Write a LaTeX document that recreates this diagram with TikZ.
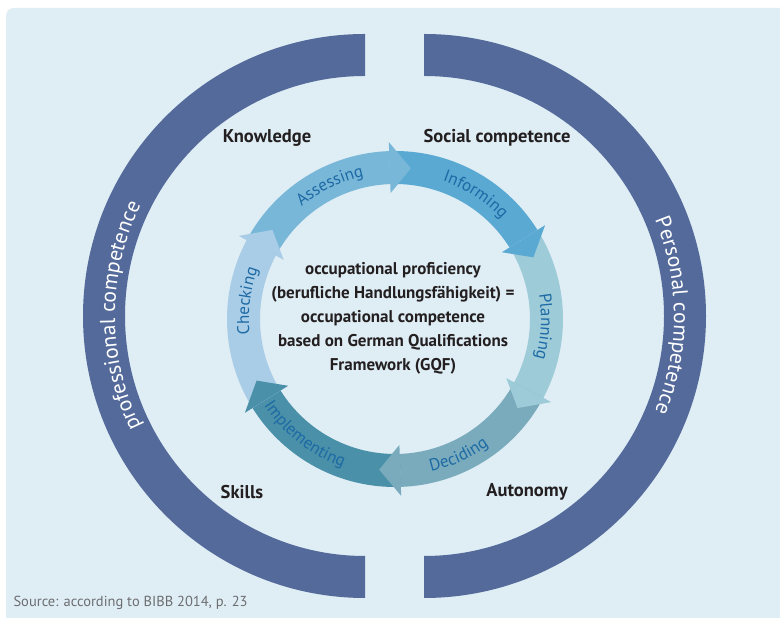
\documentclass[tikz,border=0pt]{standalone}
\usepackage{fontspec}
\setmainfont{PT Sans}
\usepackage{tikz}
\usepackage{xcolor}
\usetikzlibrary{decorations.text}

\definecolor{bgblue}{HTML}{DFEDF5}
\definecolor{ringblue}{HTML}{546A9A}
\definecolor{cassess}{HTML}{79B7D9}
\definecolor{cinform}{HTML}{5AA9D3}
\definecolor{cplan}{HTML}{9DCBD8}
\definecolor{cdecide}{HTML}{7AABBC}
\definecolor{cimpl}{HTML}{4A90A8}
\definecolor{ccheck}{HTML}{A9CDE7}
\definecolor{steptext}{HTML}{1D6AA5}
\definecolor{darktext}{HTML}{231F20}
\definecolor{srcgray}{HTML}{6D6E70}

\begin{document}
\begin{tikzpicture}[x=1pt,y=1pt,
  cornerlbl/.style={text=darktext,font=\fontsize{18.5}{22}\selectfont\bfseries},
  centerlbl/.style={text=darktext,align=center,font=\fontsize{17}{24}\selectfont\bfseries},
  srclbl/.style={text=srcgray,font=\fontsize{14.5}{17}\selectfont},
  ringtext/.style={decorate,decoration={text along path,text align=center,
    text={|\color{white}\fontsize{21.5}{25}\selectfont|#1}}},
  steptxt/.style={decorate,decoration={text along path,text align=center,
    text={|\color{steptext}\fontsize{17}{19}\selectfont|#1}}}]

\def\rin{135}
\def\rout{168}
\def\rmid{151.5}
\def\hin{126}
\def\hout{177}
\def\Rin{240}
\def\Rout{282}

\useasboundingbox (0,0) rectangle (780,618);
\fill[white] (0,0) rectangle (780,618);
\fill[bgblue] (780,0) -- (6,0) -- (6,602) arc[start angle=180,end angle=90,radius=8] -- (780,610) -- cycle;

\fill[ringblue] (365,{302+\Rout}) arc[start angle=90,end angle=270,radius=\Rout] -- (365,{302-\Rin}) arc[start angle=270,end angle=90,radius=\Rin] -- cycle;
\fill[ringblue] (424,{302+\Rout}) arc[start angle=90,end angle=-90,radius=\Rout] -- (424,{302-\Rin}) arc[start angle=-90,end angle=90,radius=\Rin] -- cycle;

\path[ringtext={professional competence}] ([shift={(365,302)}]222:250) arc[start angle=222,end angle=138,radius=250];
\path[ringtext={Personal competence}] ([shift={(424,302)}]42:250) arc[start angle=42,end angle=-42,radius=250];

\begin{scope}[shift={(395,299)}]
\fill[cassess] (152:\rin) arc[start angle=152,end angle=92,radius=\rin] -- (92:\rout) arc[start angle=92,end angle=152,radius=\rout] -- cycle;
\fill[cinform] (92:\rin) arc[start angle=92,end angle=32,radius=\rin] -- (32:\rout) arc[start angle=32,end angle=92,radius=\rout] -- cycle;
\fill[cplan] (32:\rin) arc[start angle=32,end angle=-28,radius=\rin] -- (-28:\rout) arc[start angle=-28,end angle=32,radius=\rout] -- cycle;
\fill[cdecide] (-28:\rin) arc[start angle=-28,end angle=-88,radius=\rin] -- (-88:\rout) arc[start angle=-88,end angle=-28,radius=\rout] -- cycle;
\fill[cimpl] (-88:\rin) arc[start angle=-88,end angle=-148,radius=\rin] -- (-148:\rout) arc[start angle=-148,end angle=-88,radius=\rout] -- cycle;
\fill[ccheck] (-148:\rin) arc[start angle=-148,end angle=-208,radius=\rin] -- (-208:\rout) arc[start angle=-208,end angle=-148,radius=\rout] -- cycle;

\fill[cassess] (92:\hin) -- (84:\rmid) -- (92:\hout) -- cycle;
\fill[cinform] (32:\hin) -- (24:\rmid) -- (32:\hout) -- cycle;
\fill[cplan] (-28:\hin) -- (-36:\rmid) -- (-28:\hout) -- cycle;
\fill[cdecide] (-88:\hin) -- (-96:\rmid) -- (-88:\hout) -- cycle;
\fill[cimpl] (-148:\hin) -- (-156:\rmid) -- (-148:\hout) -- cycle;
\fill[ccheck] (-208:\hin) -- (-216:\rmid) -- (-208:\hout) -- cycle;

\path[steptxt={Assessing}] (146:146) arc[start angle=146,end angle=86,radius=146];
\path[steptxt={Informing}] (87:146) arc[start angle=87,end angle=27,radius=146];
\path[steptxt={Planning}] (27:146) arc[start angle=27,end angle=-33,radius=146];
\path[steptxt={Deciding}] (-95:157) arc[start angle=-95,end angle=-35,radius=157];
\path[steptxt={Implementing}] (-158:157) arc[start angle=-158,end angle=-98,radius=157];
\path[steptxt={Checking}] (203:146) arc[start angle=203,end angle=143,radius=146];
\end{scope}

\node[centerlbl] (prof) at (393,300) {occupational proficiency\\(berufliche Handlungsfähigkeit) =\\occupational competence\\based on German Qualifications\\Framework (GQF)};

\node[cornerlbl] (know) at (267,480) {Knowledge};
\node[cornerlbl] (social) at (497,480) {Social competence};
\node[cornerlbl] (skills) at (242,126) {Skills};
\node[cornerlbl] (auto) at (527,126) {Autonomy};

\node[srclbl,anchor=west] (src) at (10,15) {Source: according to BIBB 2014, p. 23};

\end{tikzpicture}
\end{document}
